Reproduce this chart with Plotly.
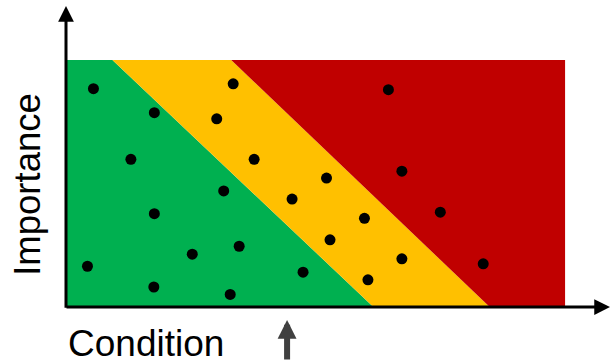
import plotly.graph_objects as go

# ---- data (Condition on x, Importance on y; region spans 0..10 on both) ----
condition = [0.55, 1.77, 3.35, 3.02, 6.46, 1.30, 3.77, 6.73, 3.16, 5.22,
             4.53, 1.77, 7.50, 5.98, 5.29, 3.47, 2.53, 0.43, 6.73, 8.36,
             4.75, 6.05, 1.76, 3.29]
importance = [8.84, 7.87, 9.04, 7.62, 8.80, 5.98, 5.98, 5.50, 4.70, 5.22,
              4.37, 3.78, 3.84, 3.59, 2.72, 2.46, 2.14, 1.65, 1.95, 1.75,
              1.41, 1.10, 0.81, 0.51]

region_extent = [0, 10]              # condition / importance extent of coloured area
green_yellow_edge = [0.93, 6.16]     # condition where boundary meets top / bottom
yellow_red_edge = [3.31, 8.49]       # condition where boundary meets top / bottom
marked_condition = 4.43              # grey arrow below the axis

axis_labels = ["Condition", "Importance"]
zone_colors = ["#00B050", "#FFC000", "#C00000"]

lo, hi = region_extent
zones = [
    ([lo, lo, green_yellow_edge[0], green_yellow_edge[1]], [lo, hi, hi, lo]),
    ([green_yellow_edge[0], yellow_red_edge[0], yellow_red_edge[1], green_yellow_edge[1]], [hi, hi, lo, lo]),
    ([yellow_red_edge[0], hi, hi, yellow_red_edge[1]], [hi, hi, lo, lo]),
]

fig = go.Figure()
for (zx, zy), col in zip(zones, zone_colors):
    fig.add_trace(go.Scatter(x=zx, y=zy, fill="toself", fillcolor=col, mode="lines",
                             line=dict(width=0, color=col), hoverinfo="skip", showlegend=False))

fig.add_trace(go.Scatter(x=condition, y=importance, mode="markers",
                         marker=dict(size=11, color="black"), showlegend=False))

# axes arrows
fig.add_annotation(x=10.9, y=0, ax=-0.02, ay=0, xref="x", yref="y", axref="x", ayref="y",
                   text="", showarrow=True, arrowhead=2, arrowsize=1.05, arrowwidth=3,
                   arrowcolor="black")
fig.add_annotation(x=0, y=12.19, ax=0, ay=-0.09, xref="x", yref="y", axref="x", ayref="y",
                   text="", showarrow=True, arrowhead=2, arrowsize=1.05, arrowwidth=3,
                   arrowcolor="black")
# marker arrow (below the axis)
fig.add_annotation(x=marked_condition, y=-0.043, ax=0, ay=50,
                   xref="x", yref="paper",
                   text="", showarrow=True, arrowhead=2, arrowsize=0.63, arrowwidth=6,
                   arrowcolor="#404040")

fam = "Liberation Sans, Arial, sans-serif"
fig.add_annotation(text=axis_labels[0], x=0.0, y=-0.12, xref="paper", yref="paper",
                   xanchor="left", yanchor="middle", showarrow=False,
                   font=dict(family=fam, size=37, color="black"))
fig.add_annotation(text=axis_labels[1], x=-0.07, y=0.409, xref="paper", yref="paper",
                   xanchor="center", yanchor="middle", textangle=-90, showarrow=False,
                   font=dict(family=fam, size=36.5, color="black"))

fig.update_xaxes(range=[0, 10.9], visible=False, fixedrange=True)
fig.update_yaxes(range=[0, 12.19], visible=False, fixedrange=True)
fig.update_layout(width=610, height=361, margin=dict(l=66, r=0, t=6, b=54),
                  paper_bgcolor="white", plot_bgcolor="white")

fig.write_html("out.html", config={"displayModeBar": False},
               post_script="document.body.style.margin='0';document.body.style.overflow='hidden';")
